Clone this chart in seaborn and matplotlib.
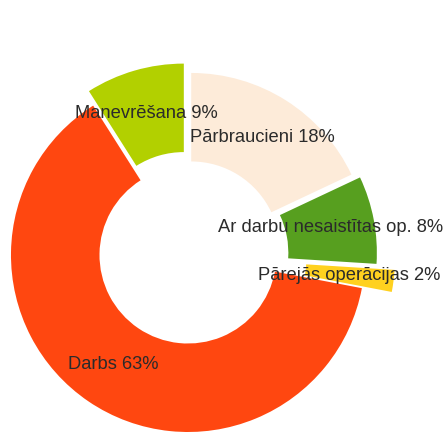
import matplotlib
matplotlib.use("Agg")
import matplotlib.pyplot as plt
import seaborn as sns

# Share of working time by activity (%)
categories = ["Pārbraucieni", "Ar darbu nesaistītas op.", "Pārejās operācijas", "Darbs", "Manevrēšana"]
shares = [18, 8, 2, 63, 9]
colors = ["#FDEBD9", "#579F1F", "#FFD11F", "#FF4710", "#B2D000"]
offsets = [0.034, 0.068, 0.17, 0.0, 0.085]

sns.set_theme(style="white")
plt.rcParams["font.family"] = ["Liberation Sans", "DejaVu Sans"]

fig = plt.figure(figsize=(4.47, 4.32), dpi=100)
ax = fig.add_axes([0, 0, 1, 1])

labels = [f"{c} {v}%" for c, v in zip(categories, shares)]
wedges, texts = ax.pie(
    shares,
    labels=labels,
    colors=colors,
    explode=offsets,
    startangle=90,
    counterclock=False,
    radius=1.0,
    labeldistance=0.75,
    wedgeprops=dict(width=0.5, linewidth=0),
    textprops=dict(fontsize=13.2, color="#2b2b2b"),
)
for t in texts:
    t.set_ha("center")
    t.set_va("center")

ax.set_xlim(-1.062, 1.463)
ax.set_ylim(-1.0, 1.441)
ax.set_aspect("auto")
ax.axis("off")

fig.savefig("out.png", dpi=100, facecolor="white")
